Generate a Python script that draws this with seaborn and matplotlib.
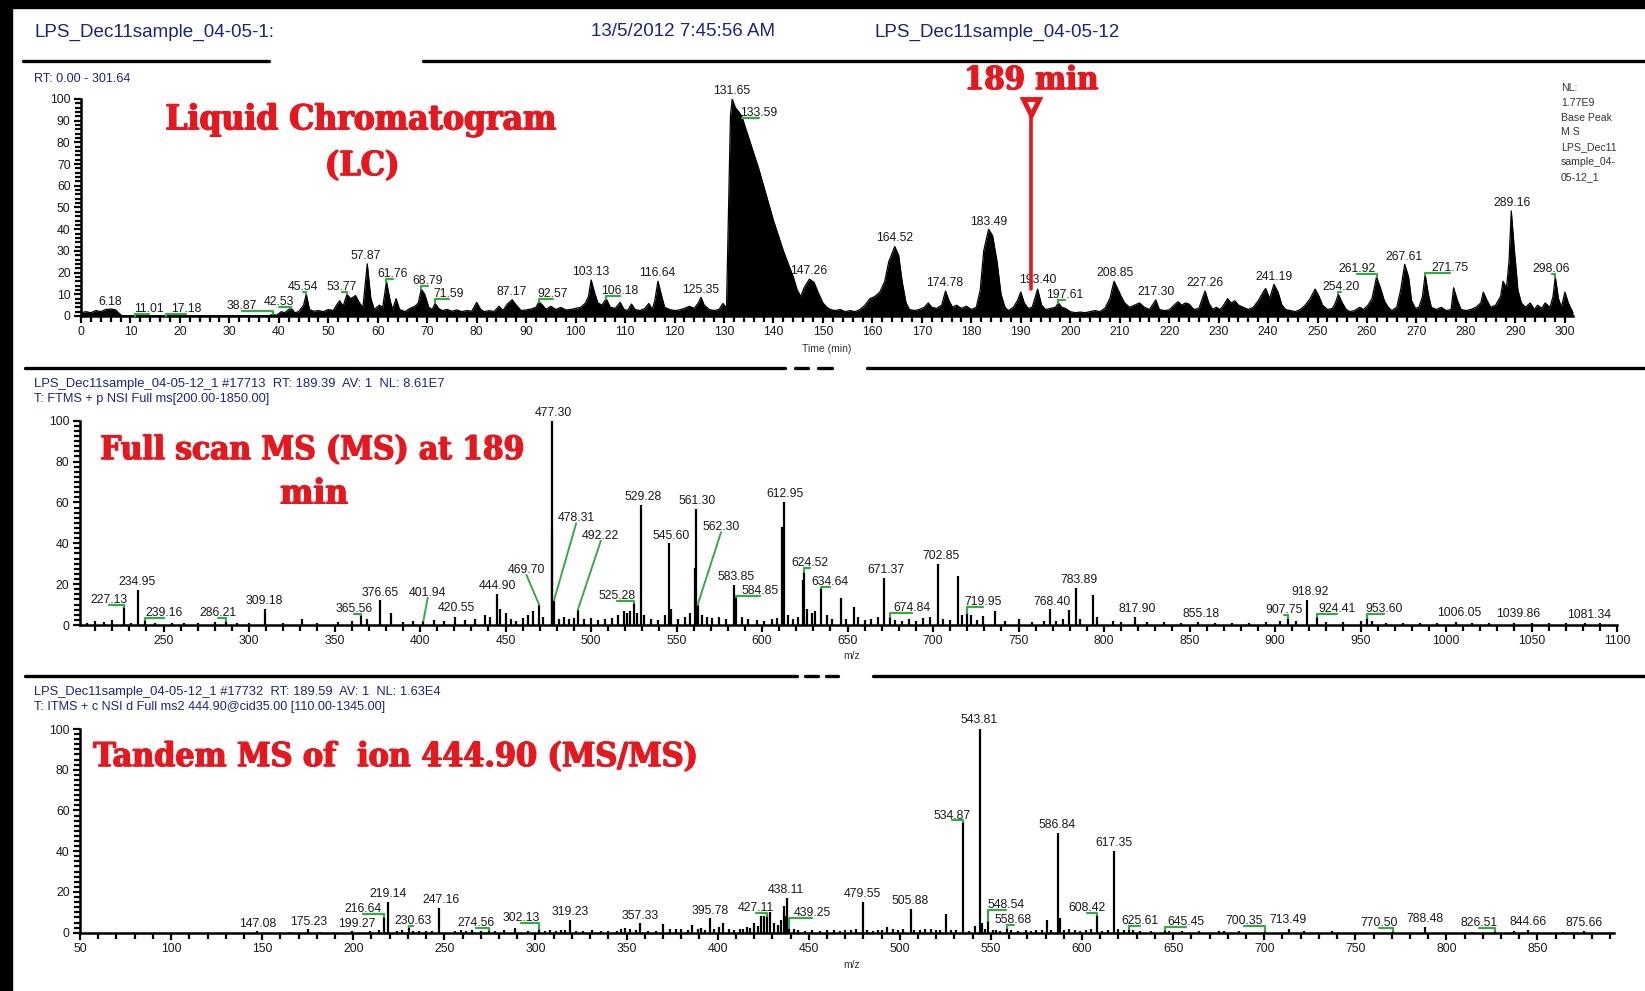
import matplotlib
matplotlib.use("Agg")
import matplotlib.pyplot as plt
import matplotlib.patheffects as pe
import seaborn as sns
import pandas as pd
from matplotlib.ticker import MultipleLocator
from matplotlib.lines import Line2D
from matplotlib.patches import Rectangle

# ---------------- DATA ----------------
# Liquid chromatogram (retention time [min], relative abundance)
lc_points = [
    (0, 1.5), (1, 2), (2, 1.5), (3, 2.5), (4, 2), (5, 3), (6.18, 3.2), (7, 2.8), (7.8, 1.0), (8.3, 0.1),
    (38, 0.1), (38.87, 0.8), (39.5, 0.3), (40.5, 2), (41.2, 1.5), (42.0, 3), (42.53, 3.6), (43.2, 1.5),
    (44, 2), (45, 5), (45.54, 10), (46.2, 3), (47, 2.2), (48, 2.5), (49, 2), (50, 3), (51, 2.5),
    (51.8, 5.5), (52.3, 7), (53, 4.5), (53.77, 10), (54.5, 8), (55.5, 9.4), (56.3, 6), (57, 4),
    (57.87, 24), (58.6, 8), (59.3, 3), (60.3, 5), (61, 4), (61.76, 15.8), (62.5, 7), (63, 3),
    (63.7, 8), (64.4, 3), (65.5, 2), (66.5, 3.5), (67.5, 4.5), (68.2, 6), (68.79, 12.4), (69.5, 10),
    (70.3, 4), (71, 3), (71.59, 5.8), (72.3, 3.5), (73, 2.5), (74, 3), (75, 2.2), (76, 2.8), (77, 2),
    (78, 2.5), (79, 2.2), (80, 6.3), (80.8, 3), (81.5, 2), (82.5, 2.5), (83.5, 2), (84.5, 4.5),
    (85.3, 2.5), (86.2, 5.5), (87.17, 7.5), (88, 5), (89, 2.5), (90, 2.8), (91, 3.2), (92, 4),
    (92.57, 6.6), (93.3, 5), (94, 3), (95, 4.5), (96, 3), (97, 4), (98, 2.8), (99, 3), (100, 3.5),
    (101, 4), (102, 6), (102.6, 9), (103.13, 16.6), (103.8, 11), (104.5, 6), (105.3, 5), (106.18, 8),
    (107, 4), (108, 3.5), (109, 6.3), (109.8, 3), (110.5, 2.5), (111.3, 5.5), (112, 3), (113, 2.5),
    (114, 3.5), (114.8, 5.8), (115.5, 3), (116, 7), (116.64, 16), (117.3, 10), (118, 4), (119, 3),
    (120, 2.5), (121, 2.8), (122, 3.5), (123, 4.5), (124, 3.5), (124.8, 6), (125.35, 8.6), (126, 5),
    (127, 3), (128, 2.5), (129, 3), (129.8, 5.8), (130.5, 3.5), (131.0, 60), (131.3, 92),
    (131.65, 100), (132.3, 96), (133, 94), (133.59, 92), (134.3, 87), (135, 82), (136, 75),
    (137, 68), (138, 60), (139, 52), (140, 44), (141, 37), (142, 30), (143, 24), (144, 18),
    (144.8, 12), (145.5, 9), (146.2, 13), (147.26, 17), (148.2, 15.5), (149, 11), (150, 6), (150.8, 4),
    (151.5, 3), (152.5, 2.5), (153.5, 3), (154.5, 2), (155.5, 2.5), (156.5, 2), (157.5, 3),
    (158.5, 5), (159.5, 8), (160.5, 9), (161.5, 11), (162.5, 16), (163.3, 25), (164.52, 32),
    (165.3, 28), (166, 16), (166.8, 6), (167.5, 3), (168.5, 2.5), (169.5, 3), (170.5, 4), (171.3, 6),
    (172, 4), (173, 3.5), (174, 5), (174.78, 11.5), (175.5, 7), (176.2, 4), (177, 5), (178, 3.5),
    (179, 4.5), (180, 3), (181, 4), (181.8, 12), (182.5, 30), (183.49, 40), (184.3, 37),
    (185.2, 25), (186, 10), (186.8, 4), (187.5, 2.5), (188.5, 4), (189.3, 7), (190, 11), (190.7, 6),
    (191.5, 3.5), (192.3, 4), (193.4, 12.4), (194.2, 5), (195, 3), (196, 3.5), (197, 4),
    (197.61, 6), (198.3, 4), (199, 3.5), (200, 2), (201, 1.5), (202, 1.8), (203, 1.5), (204, 2),
    (205, 2.5), (206, 2), (207, 3.5), (208, 8), (208.85, 16), (209.5, 13), (210.3, 9), (211, 6),
    (212, 4), (213, 5), (214, 6), (215, 4), (216, 3), (217.3, 7.4), (218, 3), (219, 2.5), (220, 2.8),
    (221, 5), (221.8, 6.6), (222.5, 5), (223.3, 6), (224, 5.5), (225, 3), (226, 3.5), (226.7, 8),
    (227.26, 11.5), (228, 6), (228.8, 3), (229.5, 4), (230.3, 3), (231, 5), (231.8, 8), (232.5, 6),
    (233.3, 7), (234, 5), (235, 4), (236, 3), (237, 4), (238, 7), (239, 11), (239.5, 12.7),
    (240.3, 8), (241.19, 14.6), (242, 11), (242.8, 5), (243.5, 3), (244.5, 2.5), (245.5, 2),
    (246.5, 3), (247.5, 5), (248.5, 8), (249.5, 12.4), (250.3, 9), (251, 5), (252, 3), (253, 3.5),
    (253.6, 6), (254.2, 10), (255, 6), (255.8, 3), (256.5, 2), (257.5, 2.5), (258.5, 4), (259.3, 3),
    (260.2, 5), (261, 8), (261.92, 18), (262.7, 13), (263.5, 7), (264.3, 4), (265, 2.5), (266, 4),
    (266.8, 12), (267.61, 23.8), (268.4, 18), (269, 7), (269.8, 3.5), (270.5, 4), (271.2, 9),
    (271.75, 19), (272.4, 10), (273, 4), (274, 3), (275, 4), (276, 2.5), (277, 3), (277.5, 13),
    (278.3, 7), (279, 3), (280, 2.5), (281, 3), (282, 4), (283, 6), (283.5, 11), (284.3, 7),
    (285, 4), (286, 5), (287, 9), (287.5, 16), (288.2, 13), (288.7, 25), (289.16, 48.4),
    (289.8, 30), (290.5, 12), (291.2, 6), (292, 4), (293, 6), (293.8, 3), (294.5, 5), (295.3, 3.5),
    (296, 6), (297, 4), (297.6, 9), (298.06, 18), (298.7, 8), (299.3, 4), (300, 11), (300.7, 6),
    (301.3, 3), (301.64, 2),
]
lc_labels = ["6.18", "11.01", "17.18", "38.87", "42.53", "45.54", "53.77", "57.87", "61.76",
             "68.79", "71.59", "87.17", "92.57", "103.13", "106.18", "116.64", "125.35", "131.65",
             "133.59", "147.26", "164.52", "174.78", "183.49", "193.40", "197.61", "208.85",
             "217.30", "227.26", "241.19", "254.20", "261.92", "267.61", "271.75", "289.16", "298.06"]
lc_green = ["11.01", "17.18", "38.87", "42.53", "45.54", "53.77", "61.76", "68.79", "71.59",
            "92.57", "106.18", "133.59", "197.61", "254.20", "261.92", "271.75", "298.06"]

# Full scan MS at 189 min (m/z, relative abundance)
ms_peaks = [
    (205, 1.0), (210, 2.0), (215, 1.5), (220, 2.5), (227.13, 8.6), (231, 1.2), (234.95, 17.1),
    (239.16, 2.5), (245, 1.0), (255, 1.0), (262, 0.8), (270, 1.0), (280, 1.5), (286.21, 2.0),
    (293, 1.0), (300, 1.0), (309.18, 8.0), (320, 1.0), (331, 3.0), (340, 1.0), (352, 1.5),
    (360, 2.0), (365.56, 5.0), (369, 3.0), (376.65, 12.0), (383, 6.0), (390, 1.5), (396, 2.0),
    (401.94, 2.0), (408, 2.5), (414, 2.0), (420.55, 4.0), (426, 2.5), (432, 3.0), (438, 5.0),
    (441, 4.0), (444.90, 15.2), (447, 8.0), (450, 6.0), (453, 3.0), (456, 2.0), (460, 3.5),
    (463, 5.0), (466, 7.0), (469.70, 9.8), (472, 4.0), (476.9, 47.0), (477.30, 100.0),
    (478.31, 12.0), (481, 3.0), (484, 4.0), (487, 3.0), (490, 3.5), (492.22, 7.3), (496, 3.0),
    (500, 3.5), (504, 2.5), (508, 3.0), (512, 3.5), (516, 5.0), (519, 7.0), (521, 6.0), (523, 7.0),
    (525.28, 10.6), (527, 6.0), (529.28, 58.7), (531, 5.0), (535, 3.0), (539, 2.5), (543, 5.0),
    (545.60, 40.0), (547, 8.0), (551, 3.0), (555, 4.0), (558, 6.0), (560.6, 28.0), (561.30, 57.0),
    (562.30, 9.8), (565, 5.0), (568, 4.0), (571, 3.5), (575, 4.0), (579, 3.0), (583.85, 19.6),
    (584.85, 13.9), (588, 4.0), (592, 3.0), (597, 2.5), (601, 2.0), (606, 3.0), (609, 3.5),
    (611.9, 48.0), (612.95, 60.0), (615, 5.0), (618, 3.0), (621, 4.0), (623.7, 22.0),
    (624.52, 26.0), (626, 8.0), (629, 6.0), (631, 7.0), (634.64, 18.0), (638, 5.0), (641, 3.0),
    (646, 13.0), (649, 3.0), (653.5, 8.6), (656, 4.0), (660, 2.5), (664, 3.0), (668, 4.0),
    (671.37, 22.8), (674.84, 4.0), (678, 2.5), (682, 2.0), (686, 3.0), (690, 2.0), (694, 3.5),
    (698, 4.0), (702.85, 29.7), (706, 3.0), (710, 2.5), (714.7, 24.0), (717, 5.0), (719.95, 5.7),
    (722, 5.0), (726, 2.5), (729, 4.4), (736, 7.0), (742, 2.0), (750, 2.8), (758, 1.5), (765, 2.0),
    (768.40, 7.7), (772, 2.0), (776, 3.0), (779.6, 7.3), (783.89, 18.0), (786, 3.0), (793.4, 14.7),
    (796, 4.0), (805, 2.0), (810, 1.5), (817.90, 4.0), (825, 1.5), (835, 1.3), (845, 1.2),
    (855.18, 1.6), (865, 1.2), (875, 1.0), (885, 1.2), (895, 1.5), (903, 2.0), (907.75, 3.3),
    (912, 2.0), (918.92, 12.2), (924.41, 4.0), (930, 1.5), (940, 1.5), (950, 2.0), (953.60, 3.3),
    (957, 2.0), (965, 1.0), (975, 1.0), (985, 1.0), (995, 1.0), (1006.05, 1.5), (1015, 0.8),
    (1025, 1.0), (1039.86, 1.2), (1050, 0.8), (1060, 1.0), (1070, 0.8), (1081.34, 1.0), (1090, 0.8),
]
ms_labels = ["227.13", "234.95", "239.16", "286.21", "309.18", "365.56", "376.65", "401.94",
             "420.55", "444.90", "469.70", "477.30", "478.31", "492.22", "525.28", "529.28",
             "545.60", "561.30", "562.30", "583.85", "584.85", "612.95", "624.52", "634.64",
             "671.37", "674.84", "702.85", "719.95", "768.40", "783.89", "817.90", "855.18",
             "907.75", "918.92", "924.41", "953.60", "1006.05", "1039.86", "1081.34"]
ms_green = ["227.13", "239.16", "286.21", "365.56", "401.94", "469.70", "478.31", "492.22",
            "525.28", "562.30", "584.85", "624.52", "634.64", "674.84", "719.95", "907.75",
            "924.41", "953.60"]

# Tandem MS of ion 444.90 (m/z, relative abundance)
msms_peaks = [
    (147.08, 1.0), (165, 0.5), (175.23, 1.6), (182, 0.5), (199.27, 1.0), (209, 0.8), (214, 1.5),
    (216.64, 7.9), (219.14, 14.9), (224, 1.0), (227, 1.5), (230.63, 3.0), (233, 1.0), (236, 1.0),
    (240, 0.8), (243, 1.0), (247.16, 12.0), (256, 1.0), (259, 1.2), (262, 1.0), (265, 1.5),
    (270, 0.8), (274.56, 1.3), (278, 1.0), (283, 1.2), (289, 2.2), (296, 1.0), (302.13, 2.0),
    (305, 1.0), (308, 1.2), (311, 1.0), (314, 1.5), (316, 1.3), (319.23, 6.2), (322, 0.8),
    (326, 1.0), (331, 1.2), (336, 0.8), (340, 1.0), (345, 1.0), (347, 2.0), (349, 2.5), (352, 1.8),
    (355, 1.3), (357.33, 4.9), (362, 0.8), (366, 1.0), (370, 4.5), (374, 1.6), (377, 2.0),
    (380, 2.0), (384, 1.5), (386, 4.0), (389, 2.0), (391, 2.5), (393, 1.5), (395.78, 7.0),
    (398, 2.0), (401, 3.0), (403, 5.0), (406, 2.0), (409, 1.3), (412, 1.6), (414, 2.0), (416, 3.0),
    (418, 2.5), (420, 5.0), (422, 3.5), (424, 8.0), (425.5, 8.0), (427.11, 8.0), (429, 10.0),
    (431, 5.0), (433, 4.0), (435, 6.0), (436.2, 13.0), (437, 8.0), (438.11, 16.9), (439.25, 2.5),
    (442, 2.0), (444, 1.5), (448, 1.0), (452, 1.2), (456, 1.0), (460, 1.2), (464, 1.5), (467, 1.0),
    (470, 1.3), (473, 1.5), (476, 2.0), (479.55, 14.9), (482, 1.5), (485, 1.0), (488, 1.2),
    (490, 1.5), (493, 3.0), (496, 2.0), (499, 1.5), (502, 1.8), (505.88, 11.6), (508, 1.5),
    (511, 1.2), (514, 1.6), (517, 1.7), (520, 1.5), (522, 1.3), (525.5, 9.2), (528, 1.2),
    (531, 1.5), (534.87, 54.5), (538, 1.0), (541, 3.5), (543.81, 100.0), (545, 4.6), (547, 2.0),
    (548.54, 5.9), (551, 1.5), (553, 1.2), (555, 1.0), (558.68, 2.5), (561, 1.5), (565, 1.0),
    (569, 1.5), (572, 1.0), (575, 1.5), (578, 1.2), (580.8, 6.2), (583, 1.5), (586.84, 49.0),
    (588, 7.4), (590, 1.5), (593, 2.0), (596, 1.3), (599, 1.0), (602, 1.5), (605, 1.8),
    (608.42, 8.7), (611, 1.0), (614, 1.3), (617.35, 40.3), (620, 1.6), (623, 1.5), (625.61, 2.0),
    (628, 1.5), (632, 1.0), (638, 1.0), (645.45, 1.3), (648, 1.0), (655, 0.8), (664, 0.8),
    (675, 0.8), (678, 1.0), (686, 1.0), (700.35, 1.0), (713.49, 2.0), (722, 0.8), (737, 0.8),
    (770.50, 0.8), (788.48, 3.0), (814, 0.5), (826.51, 0.8), (837, 0.8), (844.66, 1.2), (864, 0.5),
    (875.66, 0.8),
]
msms_labels = ["147.08", "175.23", "199.27", "216.64", "219.14", "230.63", "247.16", "274.56",
               "302.13", "319.23", "357.33", "395.78", "427.11", "438.11", "439.25", "479.55",
               "505.88", "534.87", "543.81", "548.54", "558.68", "586.84", "608.42", "617.35",
               "625.61", "645.45", "700.35", "713.49", "770.50", "788.48", "826.51", "844.66",
               "875.66"]
msms_green = ["216.64", "230.63", "274.56", "302.13", "427.11", "439.25", "534.87", "548.54",
              "558.68", "608.42", "625.61", "645.45", "700.35", "770.50", "826.51"]

selected_rt = 192.0

# ---------------- LAYOUT (label centres in data units) ----------------
lc_label_xy = [(5.8, 6.3), (13.8, 3.2), (21.2, 3.2), (32.5, 4.8), (40, 6.6), (44.8, 13.5),
               (52.7, 13.5), (57.6, 27.6), (63, 19.2), (70.1, 16.1), (74.3, 10), (87.1, 11.2),
               (95.4, 10), (103.1, 20.4), (109, 11.5), (116.6, 20), (125.3, 12), (131.5, 103.8),
               (137.1, 93.7), (147.2, 20.8), (164.5, 35.8), (174.7, 15), (183.6, 43.5),
               (193.4, 16.6), (198.9, 9.7), (209, 19.7), (217.3, 10.9), (227.3, 15), (241.2, 17.8),
               (254.8, 13.5), (258, 21.5), (267.5, 27.3), (276.7, 22), (289.4, 51.9), (297.3, 21.5)]
ms_label_xy = [(218, 12), (234.6, 20.9), (250, 6), (282, 6), (309.1, 11.9), (361.5, 8),
               (376.6, 15.8), (404.5, 15.8), (421, 8.3), (445.3, 19.1), (462.2, 26.9),
               (478, 103.9), (491.3, 52.2), (505.7, 43.6), (515.2, 14.2), (530.2, 62.8),
               (547.1, 43.7), (561.8, 60.8), (576, 47.8), (584.8, 23.5), (598.6, 16.8),
               (613.4, 64.1), (627.8, 30.5), (639.5, 20.9), (672.4, 26.9), (687.8, 8.5),
               (704.5, 33.8), (729.5, 11.4), (769.6, 11.4), (785.6, 22), (819.2, 8), (856.6, 5.5),
               (905, 7.2), (920.7, 16.3), (936.5, 8), (963.6, 7.7), (1008, 6), (1042, 5.5),
               (1083.9, 4.9)]
ms_diagonal = ["401.94", "469.70", "478.31", "492.22", "562.30"]
msms_label_xy = [(147.5, 4.3), (175.3, 5.3), (201.7, 4.3), (205.4, 11.6), (218.9, 18.8),
                 (232.7, 5.7), (247.9, 16), (267.1, 4.9), (292.3, 7.4), (319.2, 10.2),
                 (357.4, 8.2), (396.1, 10.6), (421.1, 12), (437.7, 21), (451.9, 9.5),
                 (479.3, 18.8), (505.8, 15.6), (528.7, 57.5), (543.7, 104.4), (558.1, 13.4),
                 (562.4, 6.2), (586.4, 52.9), (602.5, 12), (617.6, 44.2), (631.7, 5.7), (657, 5.3),
                 (688.8, 5.7), (713.3, 6.2), (762.9, 4.6), (788.3, 6.9), (817.7, 4.6),
                 (844.6, 5.3), (875.4, 4.6)]

# ---------------- STYLE ----------------
sns.set_theme(style="ticks")
SANS = "Liberation Sans"
plt.rcParams["font.family"] = [SANS, "DejaVu Sans"]
NAVY = "#1b2480"
RED = "#e3191f"
GREEN = "#3aa845"
SERIF = "DejaVu Serif"

W, H = 1645, 991
fig = plt.figure(figsize=(W / 100, H / 100), dpi=100)
fig.patch.set_facecolor("white")
renderer = fig.canvas.get_renderer()


def px_axes(left, right, top, bottom):
    return fig.add_axes([left / W, 1 - bottom / H, (right - left) / W, (bottom - top) / H])


def fit_text(x, y, s, width, color, family, weight="normal", ha="left", va="center",
             stretch="normal", heavy=False):
    t = fig.text(x / W, 1 - y / H, s, fontsize=10, color=color, family=family,
                 weight=weight, ha=ha, va=va, fontstretch=stretch)
    bb = t.get_window_extent(renderer=renderer)
    t.set_fontsize(10 * width / bb.width)
    if heavy:
        t.set_path_effects([
            pe.SimplePatchShadow(offset=(0.7, 0), shadow_rgbFace=color, alpha=1),
            pe.SimplePatchShadow(offset=(-0.5, 0), shadow_rgbFace=color, alpha=1),
            pe.SimplePatchShadow(offset=(0, 0.4), shadow_rgbFace=color, alpha=1),
            pe.Normal(),
        ])
    return t


def hline(y, x0, x1, lw=2.2, color="black"):
    fig.add_artist(Line2D([x0 / W, x1 / W], [1 - y / H, 1 - y / H], lw=lw, color=color,
                          transform=fig.transFigure))


def style_axes(ax, xmaj, xmin, ymaj, ymin):
    sns.despine(ax=ax)
    for s in ("left", "bottom"):
        ax.spines[s].set_linewidth(1.8)
        ax.spines[s].set_color("black")
    ax.xaxis.set_major_locator(MultipleLocator(xmaj))
    ax.xaxis.set_minor_locator(MultipleLocator(xmin))
    ax.yaxis.set_major_locator(MultipleLocator(ymaj))
    ax.yaxis.set_minor_locator(MultipleLocator(ymin))
    ax.tick_params(which="both", direction="out", color="black", width=1.6,
                   labelsize=8.8, labelcolor="#1a1a1a", pad=2.5)
    ax.tick_params(which="major", length=5)
    ax.tick_params(which="minor", length=4)
    ax.set_facecolor("none")
    ax.set_xlabel("")
    ax.set_ylabel("")


def add_labels(ax, peaks, labels, label_xy, green, diagonal, half_h):
    lookup = {round(p[0], 2): p[1] for p in peaks}
    for lab, (lx, ly) in zip(labels, label_xy):
        px = float(lab)
        py = lookup.get(round(px, 2), 0)
        ax.text(lx, ly, lab, ha="center", va="center", fontsize=8.8, color="#1a1a1a",
                clip_on=False, zorder=5)
        if lab in green:
            yb = ly - half_h
            if lab in diagonal:
                ax.plot([lx, px], [yb, py], color=GREEN, lw=1.4, zorder=4, clip_on=False)
            else:
                ys = [yb, yb, min(yb, py)]
                ax.plot([lx, px, px], ys, color=GREEN, lw=1.6, zorder=4, clip_on=False)


RED_KW = dict(weight="bold", ha="center", stretch="condensed", heavy=True)

# ---------------- FRAME / HEADER ----------------
fig.add_artist(Rectangle((0, 0), 12 / W, 1, transform=fig.transFigure, color="black"))
fig.add_artist(Rectangle((0, 1 - 8 / H), 1, 8 / H, transform=fig.transFigure, color="black"))

fit_text(35, 32, "LPS_Dec11sample_04-05-1:", 240, NAVY, SANS)
fit_text(591, 32, "13/5/2012 7:45:56 AM", 184, NAVY, SANS)
fit_text(875, 32, "LPS_Dec11sample_04-05-12", 247, NAVY, SANS)
hline(61, 23, 269, lw=2.4)
hline(61, 423, W, lw=2.4)
fit_text(34, 79, "RT: 0.00 - 301.64", 97, NAVY, SANS)

# ---------------- LC PANEL ----------------
lc_df = pd.DataFrame(lc_points, columns=["time", "intensity"])
ax1 = px_axes(81, 1573, 99, 316)
ax1.fill_between(lc_df["time"], lc_df["intensity"], 0, color="black", lw=0)
sns.lineplot(data=lc_df, x="time", y="intensity", ax=ax1, color="black", lw=0.9,
             estimator=None, sort=False)
ax1.set_xlim(0, 301.64)
ax1.set_ylim(0, 100)
style_axes(ax1, 10, 2, 10, 2)
add_labels(ax1, lc_points, lc_labels, lc_label_xy, lc_green, [], 2.3)
ax1.plot([selected_rt, selected_rt], [12.4, 96], color=RED, lw=2.6, zorder=6, clip_on=False)
ax1.plot([selected_rt], [96.5], marker="v", ms=12, mfc="white", mec=RED, mew=3.5,
         zorder=7, clip_on=False)

fit_text(361, 120, "Liquid Chromatogram", 391, RED, SERIF, **RED_KW)
fit_text(362, 166, "(LC)", 74, RED, SERIF, **RED_KW)
fit_text(1031, 81, "189 min", 134, RED, SERIF, **RED_KW)
fig.text(827 / W, 1 - 349 / H, "Time (min)", fontsize=7.5, color="#333333",
         ha="center", va="center")

for i, s in enumerate(["NL:", "1.77E9", "Base Peak", "M S", "LPS_Dec11", "sample_04-", "05-12_1"]):
    fig.text(1561 / W, 1 - (88 + 14.8 * i) / H, s, fontsize=7.6, color="#333333",
             ha="left", va="center")

hline(368, 25, 785, lw=2.4)
hline(368, 867, W, lw=2.4)
hline(368, 795, 808, lw=2.4)
hline(368, 818, 832, lw=2.4)

# ---------------- MS PANEL ----------------
ms_df = pd.DataFrame(ms_peaks, columns=["mz", "intensity"])
fit_text(34, 384, "LPS_Dec11sample_04-05-12_1 #17713  RT: 189.39  AV: 1  NL: 8.61E7", 408,
         NAVY, SANS)
fit_text(34, 399, "T: FTMS + p NSI Full ms[200.00-1850.00]", 236, NAVY, SANS)
ax2 = px_axes(79.8, 1617, 420.7, 625)
ax2.vlines(ms_df["mz"], 0, ms_df["intensity"], colors="black", lw=1.6)
ax2.set_xlim(201, 1100)
ax2.set_ylim(0, 100)
style_axes(ax2, 50, 10, 20, 2.5)
add_labels(ax2, ms_peaks, ms_labels, ms_label_xy, ms_green, ms_diagonal, 2.4)
fit_text(312, 450, "Full scan MS (MS) at 189", 424, RED, SERIF, **RED_KW)
fit_text(314, 494, "min", 68, RED, SERIF, **RED_KW)
fig.text(852 / W, 1 - 656 / H, "m/z", fontsize=7.5, color="#333333", ha="center", va="center")

hline(676, 25, 797, lw=2.4)
hline(676, 873, W, lw=2.4)
hline(676, 805, 818, lw=2.4)
hline(676, 826, 838, lw=2.4)

# ---------------- MS/MS PANEL ----------------
msms_df = pd.DataFrame(msms_peaks, columns=["mz", "intensity"])
fit_text(34, 692, "LPS_Dec11sample_04-05-12_1 #17732  RT: 189.59  AV: 1  NL: 1.63E4", 408,
         NAVY, SANS)
fit_text(34, 707, "T: ITMS + c NSI d Full ms2 444.90@cid35.00 [110.00-1345.00]", 350, NAVY, SANS)
ax3 = px_axes(80, 1614, 729, 932.7)
ax3.vlines(msms_df["mz"], 0, msms_df["intensity"], colors="black", lw=1.6)
ax3.set_xlim(50, 892)
ax3.set_ylim(0, 100)
style_axes(ax3, 50, 10, 20, 2.5)
add_labels(ax3, msms_peaks, msms_labels, msms_label_xy, msms_green, [], 2.4)
fit_text(395.6, 757, "Tandem MS of  ion 444.90 (MS/MS)", 605, RED, SERIF, **RED_KW)
fig.text(852 / W, 1 - 965 / H, "m/z", fontsize=7.5, color="#333333", ha="center", va="center")

fig.savefig("out.png", dpi=100, facecolor="white")
